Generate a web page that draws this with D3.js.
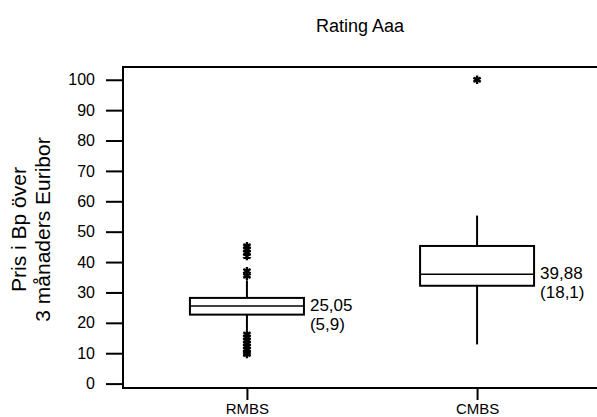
<!DOCTYPE html>
<html lang="en">
<head>
    <title>Rating Aaa</title>
    <script src="https://d3js.org/d3.v7.min.js"></script>
    <style>
        body { margin: 0; background: #fff; }
        text { font-family: "Liberation Sans", Arial, sans-serif; fill: #000; }
    </style>
</head>
<body>
    <div id="chart"></div>
    <script>

        // box plot values
        const categories = ["RMBS", "CMBS"];
        const whiskerLow = [17.5, 12.9];
        const q1 = [22.7, 32.2];
        const median = [25.5, 36.0];
        const q3 = [28.2, 45.3];
        const whiskerHigh = [34.0, 55.3];
        const outliersRMBS = [45.2, 44.2, 43.0, 42.0, 37.0, 35.5, 16.2, 15.2, 14.2, 13.2, 12.2, 11.2, 10.2, 9.7];
        const outliersCMBS = [100];
        const boxLabels = [["25,05", "(5,9)"], ["39,88", "(18,1)"]];
        const yTicks = [0, 10, 20, 30, 40, 50, 60, 70, 80, 90, 100];

        const width = 597, height = 417;
        const plot = { left: 123, right: 601, top: 67, bottom: 388 };

        const svg = d3.select("#chart")
            .append("svg")
            .attr("width", width)
            .attr("height", height);

        const y = d3.scaleLinear()
            .domain([-1.45, 104.2])
            .range([plot.bottom, plot.top]);

        const x = d3.scalePoint()
            .domain(categories)
            .range([plot.left, plot.right])
            .padding(0.5385);

        const boxHalf = 57;

        // frame: top, left, bottom
        svg.append("path")
            .attr("d", `M${width + 5},${plot.top}H${plot.left}V${plot.bottom}H${width + 5}`)
            .attr("fill", "none")
            .attr("stroke", "#000")
            .attr("stroke-width", 2);

        // y axis ticks and labels
        const yAxis = d3.axisLeft(y)
            .tickValues(yTicks)
            .tickSize(17)
            .tickPadding(11);
        const gy = svg.append("g")
            .attr("transform", `translate(${plot.left},0)`)
            .call(yAxis)
            .attr("font-size", null)
            .attr("font-family", null);
        gy.select(".domain").remove();
        gy.selectAll("line").attr("stroke-width", 2);
        gy.selectAll("text").style("font-size", "16px");

        // x axis ticks and labels
        const xAxis = d3.axisBottom(x)
            .tickSize(12)
            .tickPadding(3);
        const gx = svg.append("g")
            .attr("transform", `translate(0,${plot.bottom})`)
            .call(xAxis)
            .attr("font-size", null)
            .attr("font-family", null);
        gx.select(".domain").remove();
        gx.selectAll("line").attr("stroke-width", 2);
        gx.selectAll("text").style("font-size", "15px");

        // boxes
        const data = categories.map((c, i) => ({
            cat: c, lo: whiskerLow[i], q1: q1[i], med: median[i], q3: q3[i], hi: whiskerHigh[i],
            out: i === 0 ? outliersRMBS : outliersCMBS, label: boxLabels[i]
        }));

        const g = svg.selectAll(".box")
            .data(data)
            .enter()
            .append("g")
            .attr("class", "box");

        g.append("line")
            .attr("x1", d => x(d.cat)).attr("x2", d => x(d.cat))
            .attr("y1", d => y(d.hi)).attr("y2", d => y(d.q3))
            .attr("stroke", "#000").attr("stroke-width", 2);
        g.append("line")
            .attr("x1", d => x(d.cat)).attr("x2", d => x(d.cat))
            .attr("y1", d => y(d.q1)).attr("y2", d => y(d.lo))
            .attr("stroke", "#000").attr("stroke-width", 2);
        g.append("rect")
            .attr("x", d => x(d.cat) - boxHalf)
            .attr("y", d => y(d.q3))
            .attr("width", boxHalf * 2)
            .attr("height", d => y(d.q1) - y(d.q3))
            .attr("fill", "none")
            .attr("stroke", "#000").attr("stroke-width", 2);
        g.append("line")
            .attr("x1", d => x(d.cat) - boxHalf).attr("x2", d => x(d.cat) + boxHalf)
            .attr("y1", d => y(d.med)).attr("y2", d => y(d.med))
            .attr("stroke", "#000").attr("stroke-width", 1.5);

        // outliers as asterisks
        const star = d3.symbol().type(d3.symbolAsterisk).size(50);
        g.each(function (d) {
            d3.select(this).selectAll(".out")
                .data(d.out)
                .enter()
                .append("path")
                .attr("class", "out")
                .attr("d", star)
                .attr("transform", v => `translate(${x(d.cat)},${y(v)})`)
                .attr("fill", "none")
                .attr("stroke", "#000")
                .attr("stroke-width", 2.4);
        });

        // median / spread labels
        g.append("text")
            .attr("x", d => x(d.cat) + boxHalf + 6)
            .attr("y", d => y(d.med) + 5)
            .style("font-size", "17px")
            .text(d => d.label[0]);
        g.append("text")
            .attr("x", d => x(d.cat) + boxHalf + 6)
            .attr("y", d => y(d.med) + 24)
            .style("font-size", "17px")
            .text(d => d.label[1]);

        // title
        svg.append("text")
            .attr("x", 360)
            .attr("y", 32)
            .attr("text-anchor", "middle")
            .style("font-size", "18px")
            .text("Rating Aaa");

        // y axis title, two lines
        const yt = svg.append("text")
            .attr("transform", `translate(0,${(plot.top + plot.bottom) / 2 + 2}) rotate(-90)`)
            .attr("text-anchor", "middle")
            .style("font-size", "21px");
        yt.append("tspan").attr("x", 0).attr("y", 26).text("Pris i Bp över");
        yt.append("tspan").attr("x", 0).attr("y", 50).text("3 månaders Euribor");

    </script>
</body>
</html>
